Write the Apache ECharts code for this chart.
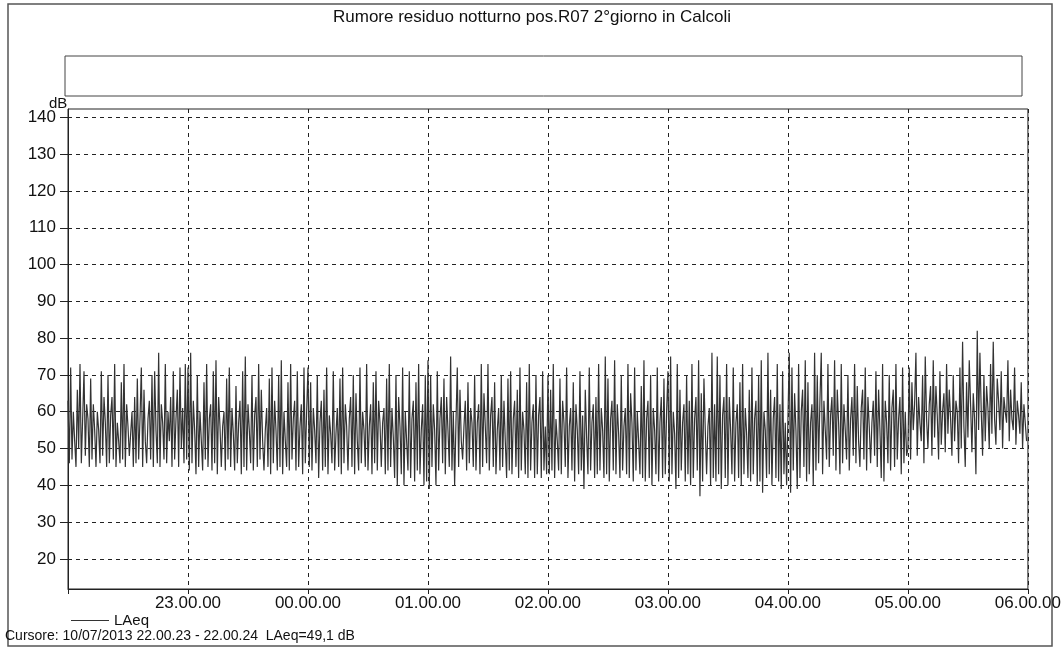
<!DOCTYPE html>
<html><head><meta charset="utf-8">
<script src="https://cdn.jsdelivr.net/npm/echarts@6/dist/echarts.min.js"></script>
<style>html,body{margin:0;padding:0;background:#fff}#c{width:1064px;height:649px}</style>
</head><body><div id="c"></div>
<script>
const titleText = 'Rumore residuo notturno pos.R07 2°giorno in Calcoli';
const seriesName = 'LAeq';
const cursorText = 'Cursore: 10/07/2013 22.00.23 - 22.00.24  LAeq=49,1 dB';
const yUnit = 'dB';
const xTickLabels = ['22.00.00','23.00.00','00.00.00','01.00.00','02.00.00','03.00.00','04.00.00','05.00.00','06.00.00'];
const yTicks = [20,30,40,50,60,70,80,90,100,110,120,130,140];

// LAeq values (dB), one array per hour
const h22 = [63,46,72,47,60,52,45,66,50,73,46,58,71,48,62,58,45,69,47,62,55,45,60,55,46,71,48,64,57,45,70,46,59,64,47,73,45,57,52,46,68,47,73,45,62,56,48,54,60,45,64,46,69,47,58,72,45,66,52,46,58,63,47,70,45,71,55,46,76,45,62,57,47,73,46,60,52,64,45,71,47,58,66,45,72,50,61,46,73,47];
const h23 = [72,44,76,46,63,55,43,70,45,60,52,44,68,47,73,45,58,62,44,71,46,74,43,64,56,45,56,60,44,69,47,72,45,61,54,44,67,46,57,63,43,71,45,75,44,62,55,46,70,44,59,64,45,73,47,66,52,44,55,61,45,69,43,72,46,63,55,44,70,45,74,43,60,52,45,68,44,73,47,58,63,44,71,45,56,62,43,72,46,60];
const h00 = [72,45,68,44,61,55,46,70,42,57,63,44,66,45,72,43,59,54,46,71,44,54,61,45,69,43,72,46,62,56,44,58,64,45,70,43,65,52,44,72,46,60,55,45,73,44,56,62,43,68,46,71,44,63,57,45,57,61,43,69,44,73,45,61,53,42,70,40,64,56,43,72,40,60,52,44,71,42,58,63,41,68,44,73,43,55,62,40,70,41];
const h01 = [74,39,70,45,62,55,40,71,44,58,64,46,69,43,64,55,45,75,44,60,40,57,72,45,66,52,47,56,63,44,68,46,61,57,45,70,44,57,62,43,73,45,65,56,46,73,44,59,64,45,68,43,55,61,44,70,45,63,52,42,69,44,71,43,58,63,45,66,42,72,44,60,55,43,68,42,73,44,57,62,42,70,43,59,64,42,71,44,56,43];
const h02 = [70,43,66,44,73,42,58,52,44,69,43,63,57,45,72,42,56,61,44,68,41,62,55,43,71,44,59,39,66,53,43,72,44,57,62,42,64,43,73,44,61,55,42,75,43,69,41,58,63,44,74,43,62,54,42,70,44,56,61,43,73,42,65,57,41,72,44,60,52,43,67,42,74,41,58,63,42,70,40,61,55,43,72,41,57,64,42,69,43,60];
const h03 = [71,41,75,43,60,54,39,73,42,66,44,57,62,41,70,43,63,40,73,42,58,64,44,74,37,65,41,69,55,43,56,61,40,76,42,62,41,75,43,70,39,59,64,42,73,40,64,55,43,72,41,57,62,42,68,40,73,43,61,54,42,66,41,72,43,58,63,40,70,41,74,38,60,55,42,76,43,66,40,58,64,42,73,41,62,39,71,43,57,40];
const h04 = [40,76,38,72,44,65,55,39,73,42,60,66,45,74,41,68,43,57,62,40,76,44,70,46,63,76,43,63,55,47,73,45,59,64,48,74,44,66,57,43,73,46,62,55,47,70,44,58,64,48,73,46,67,52,45,61,66,47,72,44,64,56,46,57,63,48,71,45,66,55,42,73,41,63,57,46,70,44,61,66,45,73,47,58,64,43,72,46,60,48];
const h05 = [50,72,47,68,55,62,76,48,64,57,52,70,46,75,58,50,62,67,48,74,53,67,59,47,71,51,60,65,49,73,54,66,58,48,70,52,63,60,46,72,50,79,56,45,68,53,74,62,49,65,58,43,82,55,76,60,48,70,52,67,61,50,73,54,79,58,51,69,63,55,71,50,64,60,57,74,52,66,58,55,72,51,63,59,54,68,50,62,57,52];

const hours = [h22,h23,h00,h01,h02,h03,h04,h05];
const data = [];
hours.forEach((arr,h)=>arr.forEach((v,i)=>data.push([h*60 + i*60/arr.length, v])));

const FONT = 'Liberation Sans, Arial, sans-serif';
const INK = '#111';
const chart = echarts.init(document.getElementById('c'), null, {renderer:'canvas'});
chart.setOption({
  animation:false,
  backgroundColor:'#fff',
  title:{text:titleText,left:'center',top:4,textStyle:{fontFamily:FONT,fontSize:17,fontWeight:'normal',color:INK}},
  legend:{data:[seriesName],left:66,top:608,icon:'rect',itemWidth:38,itemHeight:1.2,itemGap:8,
    textStyle:{fontFamily:FONT,fontSize:15,color:INK}},
  grid:{left:68,right:36,top:109,bottom:60,show:true,borderColor:'#222',borderWidth:1,backgroundColor:'transparent'},
  xAxis:{type:'value',min:0,max:480,interval:60,
    axisLine:{show:true,onZero:false,lineStyle:{color:'#222',width:1}},
    axisTick:{show:true,length:5,lineStyle:{color:'#222'}},
    axisLabel:{margin:6,fontFamily:FONT,fontSize:17,color:INK,showMinLabel:true,showMaxLabel:true,
      formatter:v=>{const k=Math.round(v/60);return k===0?'':xTickLabels[k];}},
    splitLine:{show:true,lineStyle:{color:'#222',type:[4,4],width:1}}},
  yAxis:{type:'value',min:11.8,max:142.3,
    axisLine:{show:true,lineStyle:{color:'#222',width:1}},
    axisTick:{show:true,length:8,customValues:yTicks,lineStyle:{color:'#222'}},
    axisLabel:{margin:12,customValues:yTicks,fontFamily:FONT,fontSize:17,color:INK},
    splitLine:{show:true,lineStyle:{color:'#222',type:[4,4],width:1}}},
  series:[{name:seriesName,type:'line',data:data,showSymbol:false,symbol:'none',sampling:'none',
    lineStyle:{width:1.2,color:'#333'},itemStyle:{color:'#333'}}],
  graphic:[
    {type:'rect',shape:{x:8,y:4,width:1044,height:642},style:{fill:null,stroke:'#555',lineWidth:1.5},silent:true},
    {type:'rect',shape:{x:65,y:56,width:957,height:40},style:{fill:null,stroke:'#444',lineWidth:1},silent:true},
    {type:'text',left:49,top:96,style:{text:yUnit,font:'15px '+FONT,fill:INK}},
    {type:'text',left:5,top:629,style:{text:cursorText,font:'14px '+FONT,fill:INK}}
  ]
});
</script></body></html>
